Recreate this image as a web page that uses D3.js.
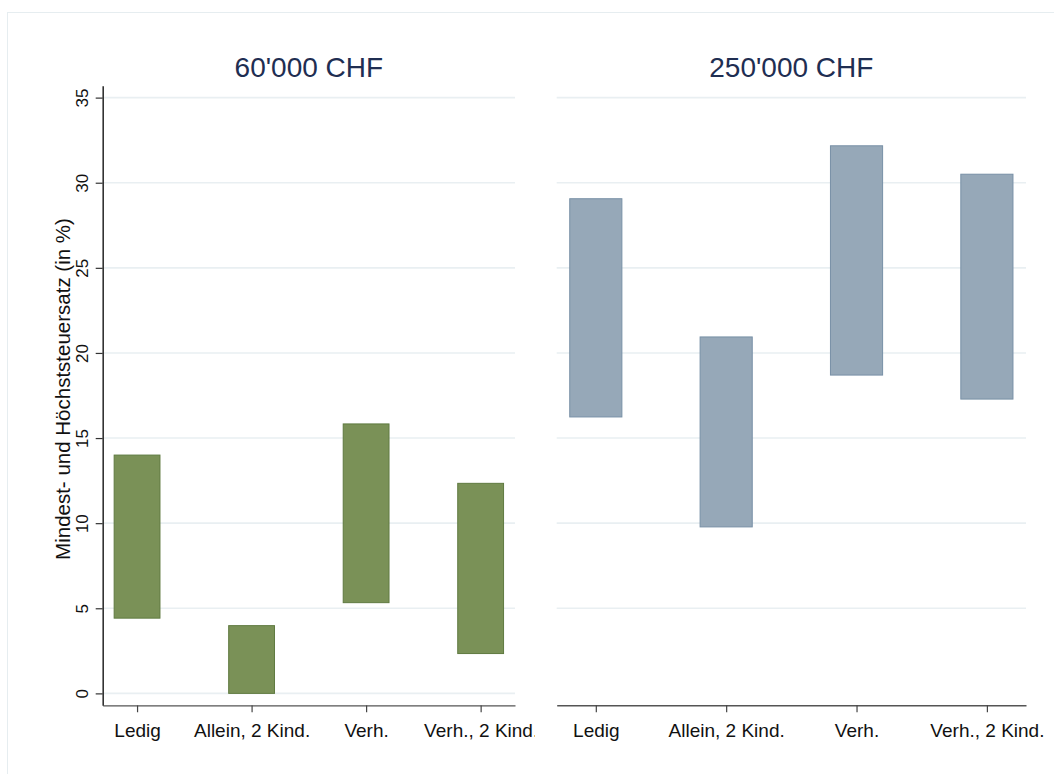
<!DOCTYPE html>
<html>
<head>
<meta charset="utf-8">
<title>Mindest- und Höchststeuersatz</title>
<script src="https://d3js.org/d3.v7.min.js"></script>
<style>
  body { margin: 0; background: #fff; }
  svg { display: block; font-family: "Liberation Sans", Arial, sans-serif; }
</style>
</head>
<body>
<div id="chart"></div>
<script>
// data (tax rate in %)
const categories = ["Ledig", "Allein, 2 Kind.", "Verh.", "Verh., 2 Kind."];
const panelTitles = ["60'000 CHF", "250'000 CHF"];
const minRate60 = [4.42, 0, 5.33, 2.34];
const maxRate60 = [14.0, 3.98, 15.83, 12.34];
const minRate250 = [16.24, 9.78, 18.70, 17.29];
const maxRate250 = [29.06, 20.94, 32.17, 30.5];
const yTicks = [0, 5, 10, 15, 20, 25, 30, 35];
const yLabel = "Mindest- und Höchststeuersatz (in %)";

const width = 1054, height = 774;

const svg = d3.select("#chart").append("svg")
  .attr("width", width)
  .attr("height", height);

// light outer frame (graph region)
svg.append("rect")
  .attr("x", 7.5).attr("y", 12.5)
  .attr("width", 1100).attr("height", 800)
  .attr("fill", "none")
  .attr("stroke", "#e6edf0")
  .attr("stroke-width", 1);

const y = d3.scaleLinear().domain([-0.7, 35.7]).range([705.3, 85.7]);

const panels = [
  { title: panelTitles[0], lo: minRate60, hi: maxRate60, x0: 102.7, x1: 515,
    fill: "#7a9157", stroke: "#5f7a40", yAxis: true, grid: yTicks },
  { title: panelTitles[1], lo: minRate250, hi: maxRate250, x0: 556.7, x1: 1026,
    fill: "#96a8b8", stroke: "#7890a6", yAxis: false, grid: yTicks.filter(d => d > 0) }
];

// clip for the left panel x labels (last one is cut off in the original)
svg.append("clipPath").attr("id", "clipLeft")
  .append("rect").attr("x", -10).attr("y", 0).attr("width", 545).attr("height", height);

panels.forEach(function(p, k) {
  const x = d3.scaleLinear().domain([0.7, 4.3]).range([p.x0, p.x1]);
  const g = svg.append("g");

  // gridlines
  g.selectAll("line.grid")
    .data(p.grid)
    .enter().append("line")
    .attr("class", "grid")
    .attr("x1", p.x0).attr("x2", p.x1)
    .attr("y1", d => y(d)).attr("y2", d => y(d))
    .attr("stroke", "#e9eff2")
    .attr("stroke-width", 1.6);

  // range bars
  g.selectAll("rect.bar")
    .data(categories)
    .enter().append("rect")
    .attr("class", "bar")
    .attr("x", (d, i) => x(i + 1 - 0.2))
    .attr("width", (d, i) => x(i + 1 + 0.2) - x(i + 1 - 0.2))
    .attr("y", (d, i) => y(p.hi[i]))
    .attr("height", (d, i) => y(p.lo[i]) - y(p.hi[i]))
    .attr("fill", p.fill)
    .attr("stroke", p.stroke)
    .attr("stroke-width", 1);

  // x axis
  const xAxis = g.append("g")
    .attr("transform", "translate(0," + y.range()[0] + ")")
    .call(d3.axisBottom(x)
      .tickValues([1, 2, 3, 4])
      .tickFormat(d => categories[d - 1])
      .tickSize(7)
      .tickSizeOuter(0));
  xAxis.select(".domain").attr("stroke", "#555").attr("stroke-width", 1.6);
  xAxis.selectAll(".tick line").attr("stroke", "#444").attr("stroke-width", 1.2);
  xAxis.selectAll(".tick text")
    .attr("y", 32).attr("dy", 0)
    .attr("fill", "#111")
    .style("font-size", "19px");
  if (k === 0) xAxis.attr("clip-path", "url(#clipLeft)");

  // y axis only on the left panel
  if (p.yAxis) {
    const yAxis = g.append("g")
      .attr("transform", "translate(" + p.x0 + ",0)")
      .call(d3.axisLeft(y).tickValues(yTicks).tickSize(7).tickSizeOuter(0));
    yAxis.select(".domain").attr("stroke", "#333").attr("stroke-width", 1.6);
    yAxis.selectAll(".tick line").attr("stroke", "#333").attr("stroke-width", 1.2);
    yAxis.selectAll(".tick text")
      .attr("transform", "rotate(-90)")
      .attr("x", 0).attr("y", -15).attr("dy", 0)
      .attr("text-anchor", "middle")
      .attr("fill", "#111")
      .style("font-size", "17px");

    svg.append("text")
      .attr("transform", "translate(70,389) rotate(-90)")
      .attr("text-anchor", "middle")
      .attr("fill", "#111")
      .style("font-size", "20.5px")
      .text(yLabel);
  }

  // panel title
  svg.append("text")
    .attr("x", (p.x0 + p.x1) / 2)
    .attr("y", 77)
    .attr("text-anchor", "middle")
    .attr("fill", "#1f2e52")
    .style("font-size", "28px")
    .text(p.title);
});
</script>
</body>
</html>
